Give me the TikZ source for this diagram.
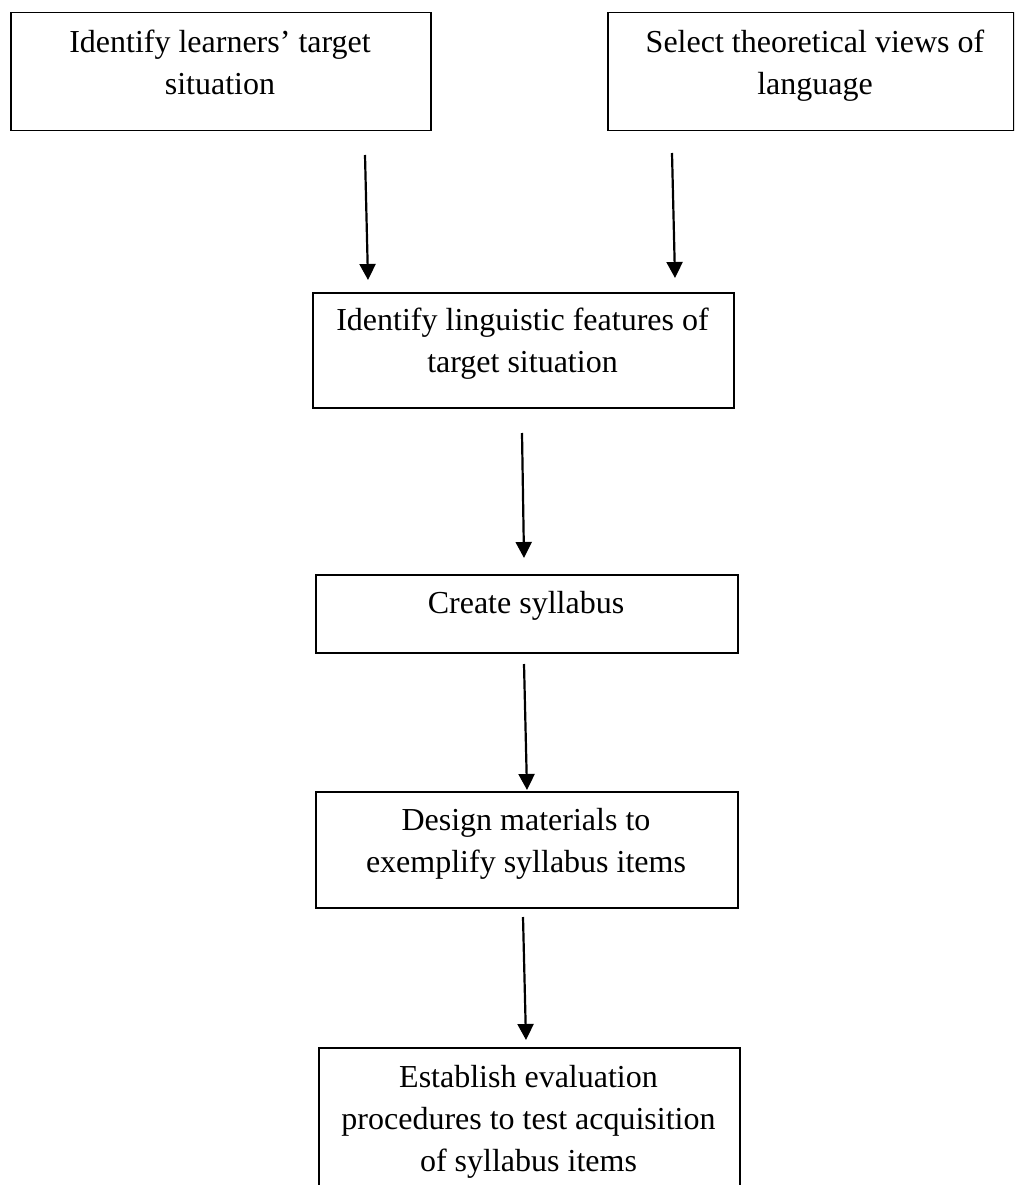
\documentclass[tikz,border=0pt]{standalone}
\usepackage{fontspec}
\setmainfont{Liberation Serif}
\usetikzlibrary{arrows.meta}
\begin{document}
\begin{tikzpicture}[x=1pt,y=-1pt,
  stepbox/.style={draw=black, line width=1.5pt, inner sep=0pt, anchor=north west},
  steptext/.style={anchor=north, inner sep=0pt, align=center,
    font=\fontsize{32}{42}\selectfont},
  flow/.style={line width=2.2pt, -{Triangle[length=16pt,width=16pt]}}]
\fill[white] (0,0) rectangle (1014,1185);
\clip (0,0) rectangle (1014,1185);

% boxes
\node[stepbox, minimum width=420pt, minimum height=118pt] (b1) at (10,12) {};
\node[stepbox, minimum width=406pt, minimum height=118pt] (b2) at (607,12) {};
\node[stepbox, minimum width=421pt, minimum height=115pt] (b3) at (312,292) {};
\node[stepbox, minimum width=422pt, minimum height=78pt]  (b4) at (315,574) {};
\node[stepbox, minimum width=422pt, minimum height=116pt] (b5) at (315,791) {};
\node[stepbox, minimum width=421pt, minimum height=200pt] (b6) at (318,1047) {};

% box texts (first baseline 40 below the top edge)
\node[steptext] (t1) at (220,22.6) {\strut Identify learners’ target\\situation};
\node[steptext] (t2) at (815,22.6) {\strut Select theoretical views of\\language};
\node[steptext] (t3) at (522.5,300.6) {\strut Identify linguistic features of\\target situation};
\node[steptext] (t4) at (526,583.6) {\strut Create syllabus};
\node[steptext] (t5) at (526,800.6) {\strut Design materials to\\exemplify syllabus items};
\node[steptext] (t6) at (528.5,1057.6) {\strut Establish evaluation\\procedures to test acquisition\\of syllabus items};

% arrow end points
\coordinate (a1s) at (365,155);  \coordinate (a1e) at (368,280);
\coordinate (a2s) at (672,153);  \coordinate (a2e) at (675,278);
\coordinate (a3s) at (522,433);  \coordinate (a3e) at (524,558);
\coordinate (a4s) at (524,664);  \coordinate (a4e) at (527,790);
\coordinate (a5s) at (523,917);  \coordinate (a5e) at (526,1040);

\draw[flow] (a1s) -- (a1e);
\draw[flow] (a2s) -- (a2e);
\draw[flow] (a3s) -- (a3e);
\draw[flow] (a4s) -- (a4e);
\draw[flow] (a5s) -- (a5e);
\end{tikzpicture}
\end{document}
